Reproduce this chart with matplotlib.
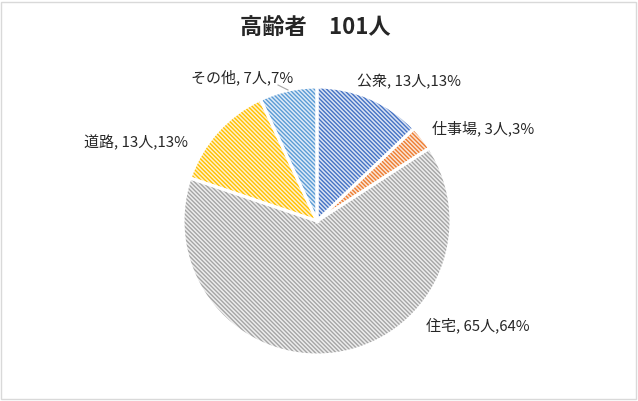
import matplotlib.pyplot as plt
from matplotlib.patches import Rectangle
import numpy as np

plt.rcParams['font.family'] = ['Noto Sans CJK JP', 'DejaVu Sans']
plt.rcParams['hatch.linewidth'] = 1.0

# data
categories = ['公衆', '仕事場', '住宅', '道路', 'その他']
counts = [13, 3, 65, 13, 7]
percents = [13, 3, 64, 13, 7]
colors = ['#4472C4', '#ED7D31', '#A5A5A5', '#FFC000', '#5B9BD5']
title = '高齢者\u3000101人'

W, H = 638, 401
fig = plt.figure(figsize=(W / 100, H / 100), dpi=100)
ax = fig.add_axes([0, 0, 1, 1])

cx, cy, r = 317, H - 221, 134

def tint(c, amt=0.8):
    rgb = np.array(plt.matplotlib.colors.to_rgb(c))
    return tuple(rgb + (1 - rgb) * amt)

# hatched layer
wedges, _ = ax.pie(counts, startangle=90, counterclock=False, center=(cx, cy),
                   radius=r, colors=[tint(c) for c in colors],
                   wedgeprops=dict(linewidth=0))
for w, c in zip(wedges, colors):
    w.set_hatch('\\' * 8)
    w.set_edgecolor(c)
    w.set_linewidth(0)

# white separating borders on top
ax.pie(counts, startangle=90, counterclock=False, center=(cx, cy), radius=r,
       colors=['none'] * len(counts),
       wedgeprops=dict(linewidth=2.2, edgecolor='white'))

ax.set_xlim(0, W)
ax.set_ylim(0, H)
ax.set_aspect('equal')
ax.axis('off')

# labels
label_pos = [(357, 82, 'left'), (432, 128, 'left'), (426, 325, 'left'),
             (188, 143, 'right'), (293, 77, 'right')]
for cat, n, p, (x, y, ha) in zip(categories, counts, percents, label_pos):
    ax.text(x, H - y, f'{cat}, {n}人,{p}%', ha=ha, va='center',
            fontsize=10.8, color='#262626')

# leader line for その他
ax.plot([278, 288], [H - 85, H - 90], color='#A6A6A6', lw=0.8)

ax.text(315, H - 27, title, ha='center', va='center', fontsize=16,
        fontweight='bold', color='#262626')

fig.patches.append(Rectangle((1 / W, 2 / H), (W - 3) / W, (H - 4) / H,
                             transform=fig.transFigure, fill=False,
                             edgecolor='#D9D9D9', lw=1))

fig.savefig('out.png', dpi=100)
